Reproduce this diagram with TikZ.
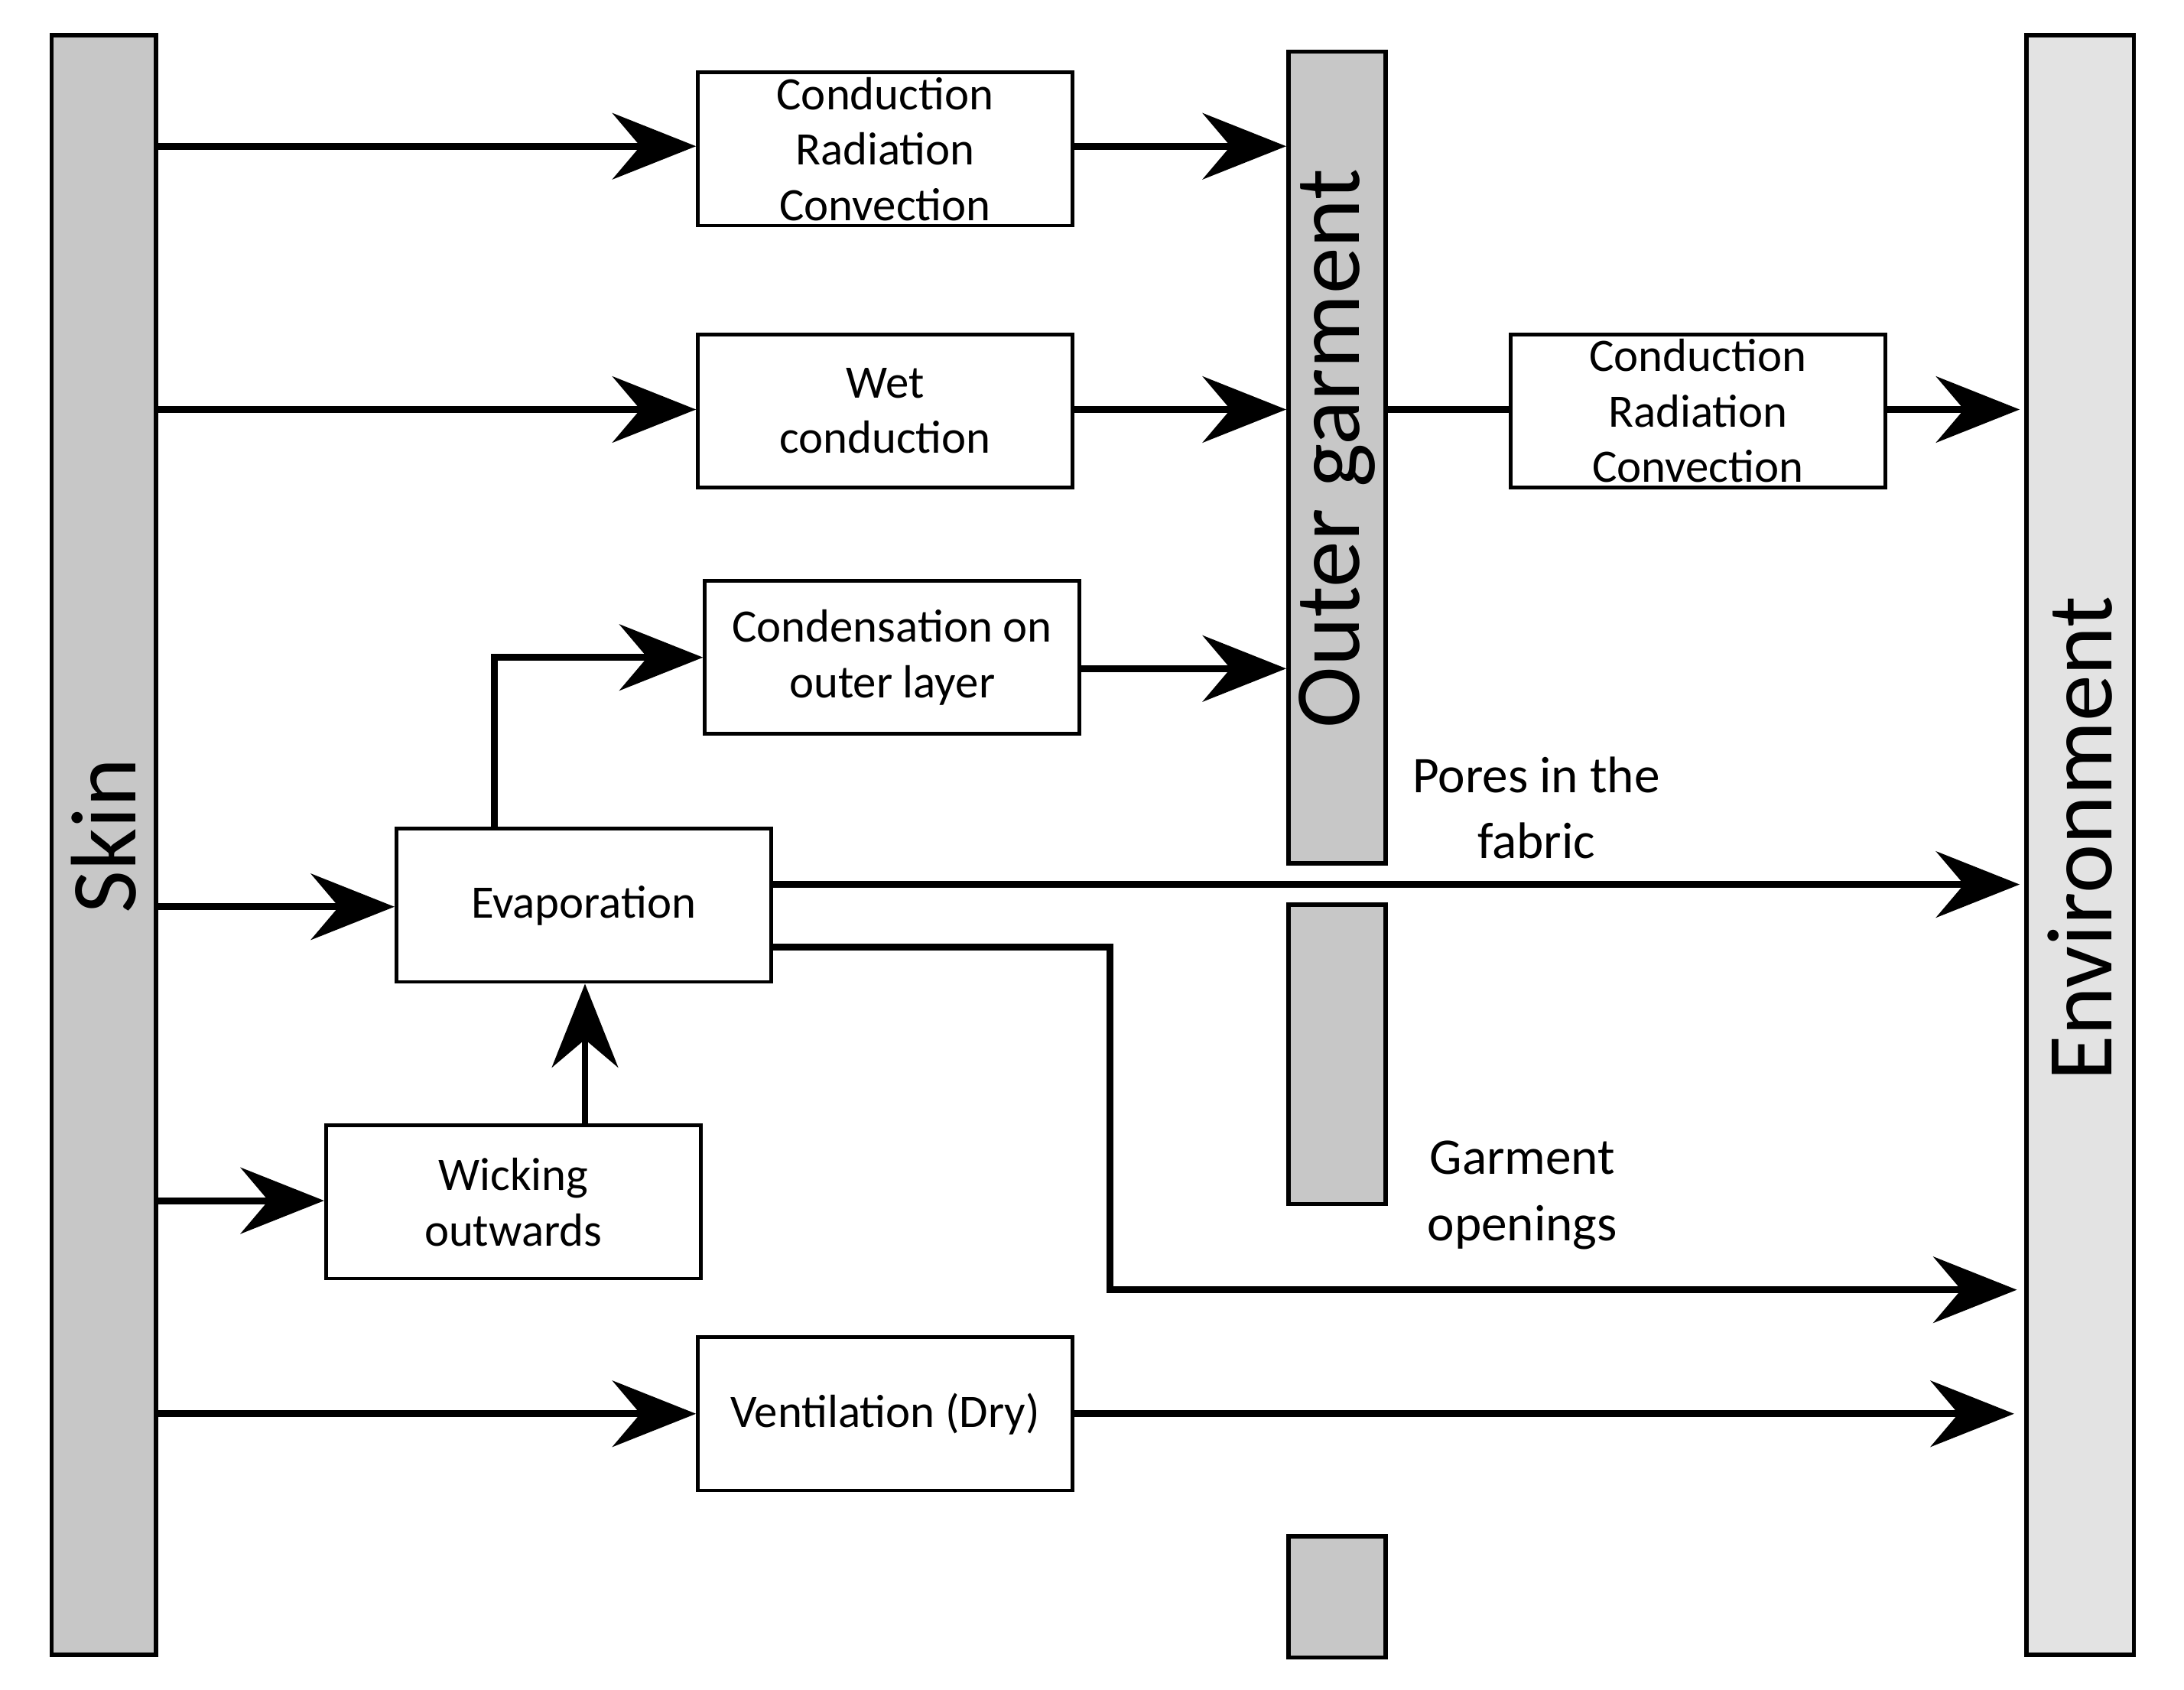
\documentclass[tikz,border=0pt]{standalone}
\usepackage{fontspec}
\setmainfont{Carlito}
\usetikzlibrary{arrows.meta}
\begin{document}
\begin{tikzpicture}[x=0.02cm,y=-0.02cm,
  box/.style={draw,line width=1.5pt,minimum width=5.38cm,minimum height=2.2cm,inner sep=0pt,align=center,font=\fontsize{19}{22.7}\selectfont},
  bar/.style={draw,line width=1.8pt,fill=black!22,inner sep=0pt},
  big/.style={font=\fontsize{38}{44}\selectfont},
  lab/.style={align=center,font=\fontsize{21}{27}\selectfont},
  ar/.style={line width=2.8pt,-{Stealth[length=1.2cm,width=0.95cm,inset=0.4cm]}},
  ln/.style={line width=2.8pt}]
\useasboundingbox (0,0) rectangle (1568,1213);
% bars
\node[bar,minimum width=1.5cm,minimum height=23.26cm] (skin) at (74.5,606.5) {};
\node[big,rotate=90] at (74.5,600) {Skin};
\node[bar,fill=black!11,minimum width=1.54cm,minimum height=23.26cm] (env) at (1493.5,606.5) {};
\node[big,rotate=90] at (1493.5,602) {Environment};
\node[bar,minimum width=1.4cm,minimum height=11.66cm] (og) at (960,328.5) {};
\node[big,rotate=90] at (960,322) {Outer garment};
\node[bar,minimum width=1.4cm,minimum height=4.3cm] (og2) at (960,757) {};
\node[bar,minimum width=1.4cm,minimum height=1.74cm] (og3) at (960,1146.5) {};
% boxes
\node[box] (b1) at (635.5,107) {Conduction\\Radiation\\Convection};
\node[box] (b2) at (635.5,295) {Wet\\conduction};
\node[box] (b3) at (1219,295) {Conduction\\Radiation\\Convection};
\node[box] (b4) at (640.5,472) {Condensation on\\outer layer};
\node[box] (b5) at (419,650) {Evaporation};
\node[box] (b6) at (368.5,863) {Wicking\\outwards};
\node[box] (b7) at (635.5,1015) {Ventilation (Dry)};
\node[lab] at (1103,580) {Pores in the\\fabric};
\node[lab] at (1093,858) {Garment\\openings};
% coordinates
\coordinate (e1) at (1450,294);
\coordinate (e2) at (1450,635);
\coordinate (e3) at (1448,926);
\coordinate (e4) at (1446,1015);
\coordinate (k) at (797,680);
\coordinate (k2) at (797,926);
\coordinate (u) at (355,472);
% arrows
\draw[ar] (skin.east |- 0,105) -- (b1.west |- 0,105);
\draw[ar] (b1.east |- 0,105) -- (og.west |- 0,105);
\draw[ar] (skin.east |- 0,294) -- (b2.west |- 0,294);
\draw[ar] (b2.east |- 0,294) -- (og.west |- 0,294);
\draw[ln] (og.east |- 0,294) -- (b3.west |- 0,294);
\draw[ar] (b3.east |- 0,294) -- (e1);
\draw[ar] (b5.north -| u) -- (u) -- (b4.west |- u);
\draw[ar] (b4.east |- 0,480) -- (og.west |- 0,480);
\draw[ar] (skin.east |- 0,651) -- (b5.west |- 0,651);
\draw[ar] (b5.east |- e2) -- (e2);
\draw[ar] (b5.east |- k) -- (k) -- (k2) -- (e3);
\draw[ar] (b6.north -| 420,0) -- (b5.south -| 420,0);
\draw[ar] (skin.east |- 0,862) -- (b6.west |- 0,862);
\draw[ar] (skin.east |- e4) -- (b7.west |- e4);
\draw[ar] (b7.east |- e4) -- (e4);
\end{tikzpicture}
\end{document}
